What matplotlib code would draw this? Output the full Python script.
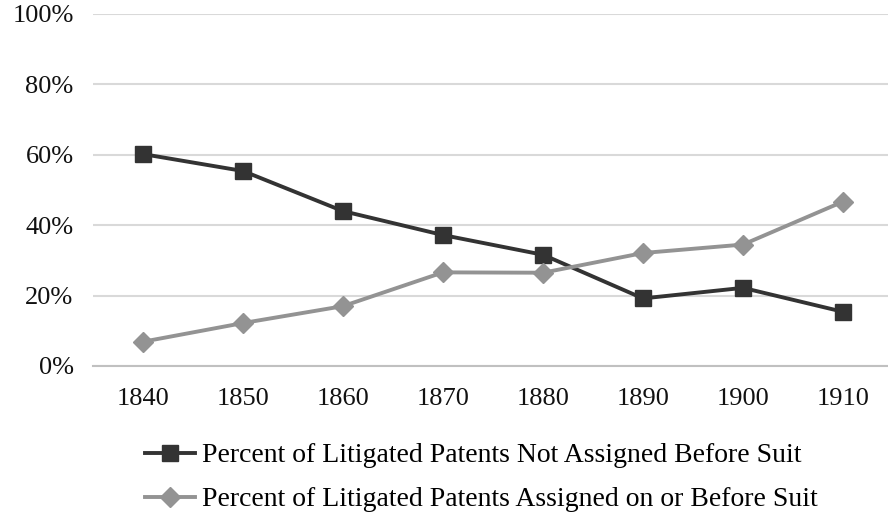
import matplotlib.pyplot as plt
import numpy as np

years = ["1840", "1850", "1860", "1870", "1880", "1890", "1900", "1910"]
not_assigned = [60.2, 55.4, 44.0, 37.2, 31.6, 19.2, 22.2, 15.4]
assigned = [6.9, 12.2, 17.0, 26.6, 26.5, 32.1, 34.5, 46.7]
yticks = [0, 20, 40, 60, 80, 100]

plt.rcParams['font.family'] = ['Liberation Serif', 'DejaVu Serif']

fig = plt.figure(figsize=(8.88, 5.16), dpi=100)
ax = fig.add_axes([93 / 888, 1 - 366 / 516, 1 - 93 / 888, 352 / 516])

x = np.arange(len(years))
ax.plot(x, not_assigned, color="#333333", lw=2.8, marker="s", ms=11,
        label="Percent of Litigated Patents Not Assigned Before Suit", zorder=3)
ax.plot(x, assigned, color="#939393", lw=2.8, marker="D", ms=10,
        label="Percent of Litigated Patents Assigned on or Before Suit", zorder=3)

ax.set_xlim(-0.5, 7.45)
ax.set_ylim(0, 100)
ax.set_yticks(yticks)
ax.set_yticklabels([f"{v}%" for v in yticks])
ax.set_xticks(x)
ax.set_xticklabels(years)
ax.yaxis.grid(True, color="#d9d9d9", lw=1.5)
ax.set_axisbelow(True)
for s in ["top", "right", "left"]:
    ax.spines[s].set_visible(False)
ax.spines["bottom"].set_color("#c0c0c0")
ax.spines["bottom"].set_linewidth(1.5)
ax.tick_params(axis="both", length=0, labelsize=19, colors="#111111")
ax.tick_params(axis="y", pad=14)
ax.tick_params(axis="x", pad=16)

fig.legend(loc="upper left", bbox_to_anchor=(145 / 888, 1 - 443 / 516),
           frameon=False, fontsize=20, handlelength=1.8, handletextpad=0.25,
           labelspacing=0.67, borderaxespad=0, borderpad=0)

fig.savefig("out.png", dpi=100)
